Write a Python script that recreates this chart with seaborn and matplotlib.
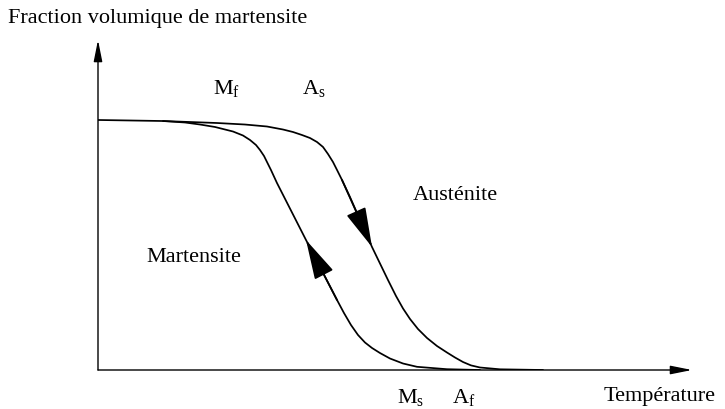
import matplotlib
matplotlib.use("Agg")
import matplotlib.pyplot as plt
import seaborn as sns
import pandas as pd

sns.set_theme(style="white")
plt.rcParams['font.family'] = ['Liberation Serif', 'DejaVu Serif']
plt.rcParams['mathtext.fontset'] = 'custom'
plt.rcParams['mathtext.rm'] = 'Liberation Serif'
plt.rcParams['mathtext.it'] = 'Liberation Serif'

# Cooling curve (martensite forms, Ms -> Mf): temperature vs volume fraction
cool_T = [0.0, 5.39, 10.94, 14.65, 17.17, 19.70, 22.73, 24.41, 25.59, 26.60, 27.27, 27.95,
          28.45, 29.12, 30.13, 35.02, 40.24, 41.41, 42.59, 43.77, 44.95, 46.13, 47.47,
          49.16, 51.35, 53.70, 58.75, 64.31]
cool_f = [75.76, 75.61, 75.45, 75.0, 74.39, 73.64, 72.27, 71.06, 69.70, 68.18, 66.67, 64.85,
          63.03, 60.61, 56.67, 39.39, 21.21, 17.27, 13.64, 10.61, 8.33, 6.67, 5.15,
          3.48, 1.97, 0.97, 0.24, 0.0]
# Heating curve (austenite forms, As -> Af)
heat_T = [10.94, 20.03, 24.75, 28.45, 31.14, 32.83, 34.34, 35.69, 36.87, 37.88, 38.72, 39.56,
          40.24, 41.08, 42.42, 46.13, 48.82, 50.17, 51.35, 52.53, 53.87, 55.39, 57.07,
          58.75, 60.10, 61.45, 62.79, 64.31, 67.68, 74.92]
heat_f = [75.45, 74.85, 74.39, 73.79, 72.88, 72.12, 71.21, 70.30, 69.09, 67.58, 65.45, 63.03,
          60.61, 57.58, 52.42, 37.27, 27.27, 22.42, 18.64, 15.45, 12.42, 9.70, 7.27,
          5.30, 3.79, 2.42, 1.40, 0.76, 0.21, 0.0]

# arrow (from index, to index) along each curve
cool_arrow = (16, 15)
heat_arrow = (13, 15)

W, H = 725, 409
fig = plt.figure(figsize=(W / 100, H / 100), dpi=100)
ax = fig.add_axes([98 / W, (H - 370) / H, (692 - 98) / W, (370 - 40) / H])
ax.set_xlim(0, 100)
ax.set_ylim(0, 100)
for s in ax.spines.values():
    s.set_visible(False)
ax.set_xticks([])
ax.set_yticks([])
ax.set_facecolor('none')
fig.patch.set_facecolor('white')

df_c = pd.DataFrame({'T': cool_T, 'f': cool_f})
df_h = pd.DataFrame({'T': heat_T, 'f': heat_f})
line_kw = dict(sort=False, estimator=None, color='black', lw=1.25,
               solid_joinstyle='round', solid_capstyle='round', ax=ax)
sns.lineplot(data=df_c, x='T', y='f', **line_kw)
sns.lineplot(data=df_h, x='T', y='f', **line_kw)
ax.set_xlabel('')
ax.set_ylabel('')

# axes with arrows
axis_style = dict(arrowstyle='-|>,head_length=13,head_width=2.6', mutation_scale=1,
                  color='black', lw=1.0, shrinkA=0, shrinkB=0)
ax.annotate('', xy=(100, 0), xytext=(0, 0), arrowprops=axis_style, annotation_clip=False)
ax.annotate('', xy=(0, 100), xytext=(0, 0), arrowprops=axis_style, annotation_clip=False)

curve_style = dict(arrowstyle='-|>,head_length=25,head_width=6.5', mutation_scale=1,
                   color='black', lw=1.25, shrinkA=0, shrinkB=0)
i0, i1 = cool_arrow
ax.annotate('', xy=(cool_T[i1], cool_f[i1]), xytext=(cool_T[i0], cool_f[i0]), arrowprops=curve_style)
i0, i1 = heat_arrow
ax.annotate('', xy=(heat_T[i1], heat_f[i1]), xytext=(heat_T[i0], heat_f[i0]), arrowprops=curve_style)

fs = 16
def ftext(px, py, s):
    fig.text(px / W, 1 - py / H, s, fontsize=fs, ha='left', va='baseline', color='black')

ftext(8, 23, 'Fraction volumique de martensite')
ftext(604, 401, 'Température')
ftext(413, 200, 'Austénite')
ftext(146, 262, 'Martensite')
ftext(213, 94, r'$\mathrm{M_f}$')
ftext(302, 94, r'$\mathrm{A_s}$')
ftext(397, 403, r'$\mathrm{M_s}$')
ftext(452, 403, r'$\mathrm{A_f}$')

fig.savefig('out.png', dpi=100)
